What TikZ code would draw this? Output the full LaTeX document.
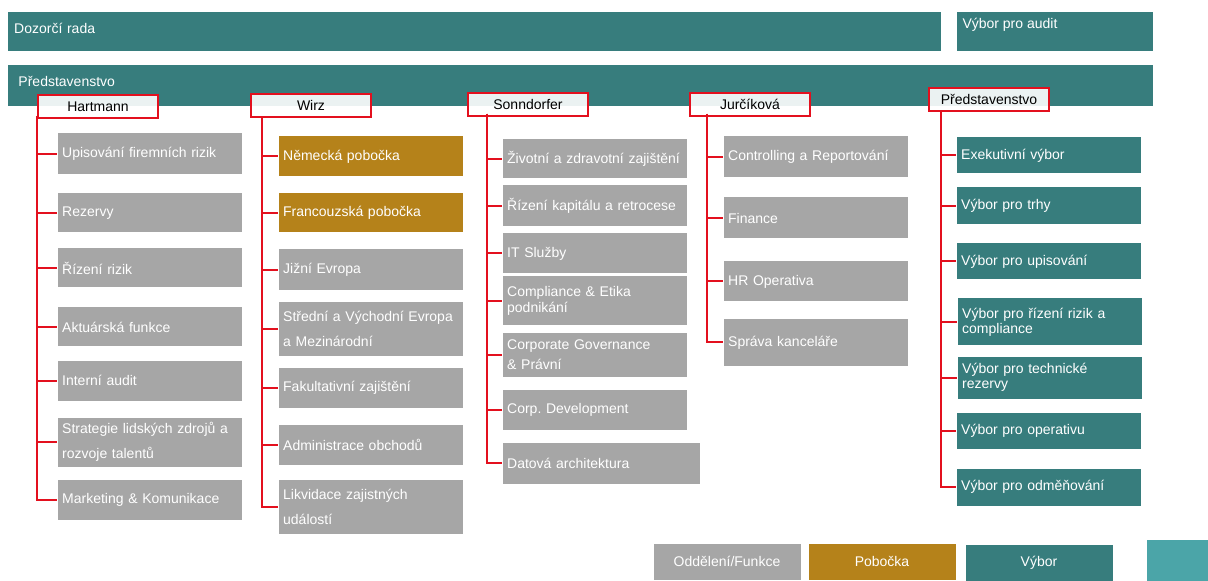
\documentclass[tikz,border=0pt]{standalone}
\usepackage{fontspec}
\setmainfont{Liberation Sans}
\frenchspacing
\definecolor{boardteal}{HTML}{377D7D}
\definecolor{unitgray}{HTML}{A6A6A6}
\definecolor{branchgold}{HTML}{B5821A}
\definecolor{legendteal}{HTML}{4BA5A8}
\definecolor{linkred}{HTML}{E3101E}

\tikzset{every picture/.style={line width=0.75pt}}
\tikzset{
  boxtext/.style={font=\fontsize{10.5}{12.6}\selectfont},
  loose/.style={font=\fontsize{10.5}{18.75}\selectfont},
  mid/.style={font=\fontsize{10.5}{15}\selectfont},
  tight/.style={font=\fontsize{10.5}{11.5}\selectfont},
  unit/.style={boxtext, fill=unitgray, text=white, anchor=north west, inner xsep=3.5pt, inner ysep=0pt, text width=131pt, align=left, minimum height=#1*0.75pt},
  branch/.style={unit=#1, fill=branchgold},
  cttee/.style={unit=#1, fill=boardteal},
  head/.style={boxtext, draw=linkred, line width=1.5pt, fill=white, fill opacity=0.9, text opacity=1, text=black, anchor=north west, inner sep=0pt, minimum width=90pt, minimum height=17pt},
  key/.style={boxtext, text=white, anchor=north west, inner sep=0pt, minimum width=110.25pt, minimum height=27pt},
  link/.style={draw=linkred, line width=1.5pt},
}

\begin{document}
\begin{tikzpicture}[x=0.75pt,y=0.75pt,yscale=-1,xscale=1]
\path[use as bounding box] (0,0) rectangle (1208,581);

% Supervisory board
\draw (7,12) node (board) [boxtext, fill=boardteal, text=white, anchor=north west, inner xsep=5pt, inner ysep=0pt, text width=689.75pt, text depth=5.5pt, align=left, minimum height=29.25pt] {Dozorčí rada};
\draw (956,12) node (audit) [fill=boardteal, anchor=north west, inner sep=0pt, minimum width=147pt, minimum height=29.25pt, label={[anchor=north west, boxtext, text=white, inner sep=0pt, xshift=4.5pt, yshift=-4pt]north west:Výbor pro audit}] {};
% Executive board bar
\draw (7,65) node (exec) [boxtext, fill=boardteal, text=white, anchor=north west, inner xsep=8.25pt, inner ysep=0pt, text width=842.25pt, text depth=6.5pt, align=left, minimum height=30.75pt] {Představenstvo};

% Member headers
\draw (37,94) node (hart) [head] {Hartmann};
\draw (250,93) node (wirz) [head] {Wirz};
\draw (467,92) node (sonn) [head] {Sonndorfer};
\draw (689,92) node (jurc) [head] {Jurčíková};
\draw (928,87) node (pred) [head] {Představenstvo};

% Trunk tops
\coordinate (ht) at (37,116);
\coordinate (wt) at (262,117);
\coordinate (st) at (487,114);
\coordinate (jt) at (707,114);
\coordinate (pt) at (941,111);

% Hartmann
\draw (57,133) node (h1) [unit=41] {Upisování firemních rizik};
\draw (57,193) node (h2) [unit=39] {Rezervy};
\draw (57,248) node (h3) [unit=39] {Řízení rizik};
\draw (57,307) node (h4) [unit=39] {Aktuárská funkce};
\draw (57,360) node (h5) [unit=40] {Interní audit};
\draw (57,417) node (h6) [unit=49, loose] {Strategie lidských zdrojů a\\rozvoje talentů};
\draw (57,479) node (h7) [unit=40] {Marketing \& Komunikace};

% Wirz
\draw (278,136) node (w1) [branch=40] {Německá pobočka};
\draw (278,193) node (w2) [branch=39] {Francouzská pobočka};
\draw (278,249) node (w3) [unit=41] {Jižní Evropa};
\draw (278,302) node (w4) [unit=53, loose] {Střední a Východní Evropa\\a Mezinárodní};
\draw (278,367) node (w5) [unit=40] {Fakultativní zajištění};
\draw (278,424) node (w6) [unit=40] {Administrace obchodů};
\draw (278,479) node (w7) [unit=54, loose] {Likvidace zajistných\\událostí};

% Sonndorfer
\draw (502,139) node (s1) [unit=39] {Životní a zdravotní zajištění};
\draw (502,185) node (s2) [unit=41] {Řízení kapitálu a retrocese};
\draw (502,233) node (s3) [unit=40] {IT Služby};
\draw (502,276) node (s4) [unit=49, tight] {Compliance \& Etika\\podnikání};
\draw (502,333) node (s5) [unit=43, mid] {Corporate Governance\\\& Právní};
\draw (502,389) node (s6) [unit=40] {Corp. Development};
\draw (502,442) node (s7) [unit=41, text width=140.75pt] {Datová architektura};

% Jurcikova
\draw (723,136) node (j1) [unit=41] {Controlling a Reportování};
\draw (723,197) node (j2) [unit=41] {Finance};
\draw (723,261) node (j3) [unit=40] {HR Operativa};
\draw (723,319) node (j4) [unit=46] {Správa kanceláře};

% Committees
\draw (956,137) node (p1) [cttee=36] {Exekutivní výbor};
\draw (956,187) node (p2) [cttee=37] {Výbor pro trhy};
\draw (956,243) node (p3) [cttee=36] {Výbor pro upisování};
\draw (957,298) node (p4) [cttee=47, tight] {Výbor pro řízení rizik a\\compliance};
\draw (957,356) node (p5) [cttee=42, tight] {Výbor pro technické\\rezervy};
\draw (956,412) node (p6) [cttee=36] {Výbor pro operativu};
\draw (956,468) node (p7) [cttee=37] {Výbor pro odměňování};

% Connectors
\draw [link] (ht) |- (h1.west);
\draw [link] (ht) |- (h2.west);
\draw [link] (ht) |- (h3.west);
\draw [link] (ht) |- (h4.west);
\draw [link] (ht) |- (h5.west);
\draw [link] (ht) |- (h6.west);
\draw [link] (ht) |- (h7.west);
\draw [link] (wt) |- (w1.west);
\draw [link] (wt) |- (w2.west);
\draw [link] (wt) |- (w3.west);
\draw [link] (wt) |- (w4.west);
\draw [link] (wt) |- (w5.west);
\draw [link] (wt) |- (w6.west);
\draw [link] (wt) |- (w7.west);
\draw [link] (st) |- (s1.west);
\draw [link] (st) |- (s2.west);
\draw [link] (st) |- (s3.west);
\draw [link] (st) |- (s4.west);
\draw [link] (st) |- (s5.west);
\draw [link] (st) |- (s6.west);
\draw [link] (st) |- (s7.west);
\draw [link] (jt) |- (j1.west);
\draw [link] (jt) |- (j2.west);
\draw [link] (jt) |- (j3.west);
\draw [link] (jt) |- (j4.west);
\draw [link] (pt) |- (p1.west);
\draw [link] (pt) |- (p2.west);
\draw [link] (pt) |- (p3.west);
\draw [link] (pt) |- (p4.west);
\draw [link] (pt) |- (p5.west);
\draw [link] (pt) |- (p6.west);
\draw [link] (pt) |- (p7.west);

% Legend
\draw (653,543) node (keyunit) [key, fill=unitgray] {Oddělení/Funkce};
\draw (808,543) node (keybranch) [key, fill=branchgold] {Pobočka};
\draw (965,544) node (keycttee) [key, fill=boardteal] {Výbor};
\draw (1146,539) node (keyextra) [anchor=north west, fill=legendteal, inner sep=0pt, minimum width=46.5pt, minimum height=31.5pt] {};

\end{tikzpicture}
\end{document}
